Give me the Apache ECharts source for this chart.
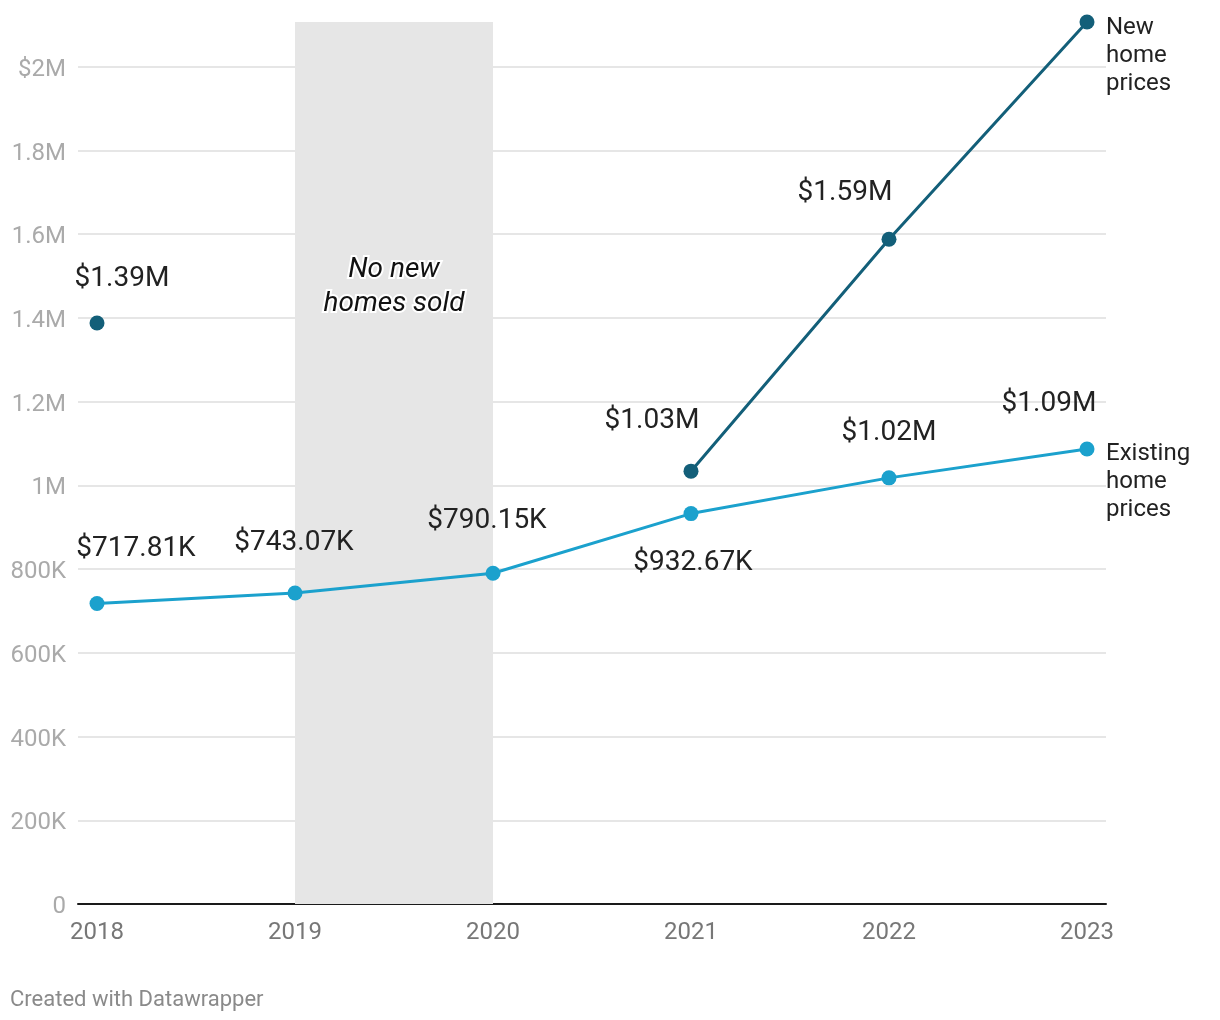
<!DOCTYPE html>
<html>
<head>
<meta charset="utf-8">
<script src="https://cdn.jsdelivr.net/npm/echarts@6/dist/echarts.min.js"></script>
<style>
html,body{margin:0;padding:0;background:#fff;}
#chart{width:1220px;height:1020px;}
</style>
</head>
<body>
<div id="chart"></div>
<script>
// ---- data ----
const years = [2018, 2019, 2020, 2021, 2022, 2023];
const newHomePrices = [1388000, null, null, 1034000, 1588000, 2107000];
const existingHomePrices = [717810, 743070, 790150, 932670, 1018000, 1087000];
const yTicks = [0, 200000, 400000, 600000, 800000, 1000000, 1200000, 1400000, 1600000, 1800000, 2000000];
const shadedYears = [2019, 2020];
const shadedText = 'No new\nhomes sold';
const newLabel = 'New\nhome\nprices';
const existingLabel = 'Existing\nhome\nprices';

// label offsets relative to point [dx, dy]; null = no value label
const newOffsets = [[25, -44], null, null, [-39, -50], [-44, -46], null];
const existingOffsets = [[39, -55], [-1, -50], [-6, -52], [2, 49], [0, -45], [-38, -45]];

function fmtVal(v) {
  if (v >= 1e6) return '$' + (v / 1e6).toFixed(2) + 'M';
  return '$' + (v / 1000).toFixed(2) + 'K';
}
function fmtAxis(v) {
  let s;
  if (v === 0) s = '0';
  else if (v >= 1e6) s = (v / 1e6).toString().replace(/\.0$/, '') + 'M';
  else s = (v / 1000) + 'K';
  if (v === 2000000) s = '$' + s;
  return '{v|' + s + '}';
}
const FONT = 'Roboto, "Noto Sans", sans-serif';

function buildData(vals, offsets) {
  return years.map((y, i) => {
    const v = vals[i];
    if (v === null) return [y, '-'];
    const off = offsets[i];
    const item = { value: [y, v] };
    if (off) {
      item.label = { show: true, position: 'inside', offset: off, formatter: () => fmtVal(v) };
    } else {
      item.label = { show: false };
    }
    return item;
  });
}

const yMax = newHomePrices[5];

const chart = echarts.init(document.getElementById('chart'), null, { renderer: 'canvas' });
chart.setOption({
  animation: false,
  backgroundColor: '#fff',
  textStyle: { fontFamily: FONT },
  title: {
    text: 'Created with Datawrapper',
    left: 5, top: 984,
    textStyle: { fontFamily: FONT, fontSize: 22, fontWeight: 'normal', color: '#8a8a8a' }
  },
  grid: { left: 78, right: 114, top: 22, bottom: 116, containLabel: false },
  xAxis: {
    type: 'value',
    min: 2017.904, max: 2023.096,
    axisLine: { show: true, onZero: true, lineStyle: { color: '#1a1a1a', width: 2 } },
    axisTick: { show: false },
    splitLine: { show: false },
    axisLabel: {
      customValues: years,
      formatter: v => String(v),
      color: '#777', fontSize: 24, fontFamily: FONT, margin: 17
    }
  },
  yAxis: {
    type: 'value',
    min: 0, max: yMax, interval: 200000,
    axisLine: { show: false },
    axisTick: { show: false },
    axisLabel: {
      customValues: yTicks,
      formatter: fmtAxis, color: '#aaa', fontSize: 24, fontFamily: FONT, margin: 12,
      rich: { v: { color: '#aaa', fontSize: 24, fontFamily: FONT, padding: [6, 0, 0, 0] } }
    },
    splitLine: { show: true, showMinLine: false, showMaxLine: false, lineStyle: { color: '#e6e6e6', width: 2 } }
  },
  series: [
    {
      name: 'Existing',
      type: 'line',
      data: buildData(existingHomePrices, existingOffsets),
      symbol: 'circle', symbolSize: 15,
      lineStyle: { color: '#1ba1cd', width: 3 },
      itemStyle: { color: '#1ba1cd' },
      label: { show: true, color: '#222', fontSize: 28, fontFamily: FONT },
      endLabel: {
        show: true, formatter: existingLabel, color: '#222', fontSize: 24, lineHeight: 28,
        fontFamily: FONT, align: 'left', offset: [19, 33], distance: 0
      },
      markArea: {
        silent: true,
        itemStyle: { color: '#e6e6e6' },
        label: {
          show: true, position: 'insideTop', distance: 231,
          formatter: shadedText,
          fontStyle: 'italic', fontSize: 28, lineHeight: 34, color: '#111', fontFamily: FONT,
          textBorderColor: '#fff', textBorderWidth: 4
        },
        data: [[{ coord: [shadedYears[0], 0] }, { coord: [shadedYears[1], yMax] }]]
      },
      z: 3
    },
    {
      name: 'New',
      type: 'line',
      data: buildData(newHomePrices, newOffsets),
      connectNulls: false,
      symbol: 'circle', symbolSize: 15,
      lineStyle: { color: '#135f79', width: 3 },
      itemStyle: { color: '#135f79' },
      label: { show: true, color: '#222', fontSize: 28, fontFamily: FONT },
      endLabel: {
        show: true, formatter: newLabel, color: '#222', fontSize: 24, lineHeight: 28,
        fontFamily: FONT, align: 'left', offset: [19, 34], distance: 0
      },
      z: 4
    }
  ]
});
</script>
</body>
</html>
